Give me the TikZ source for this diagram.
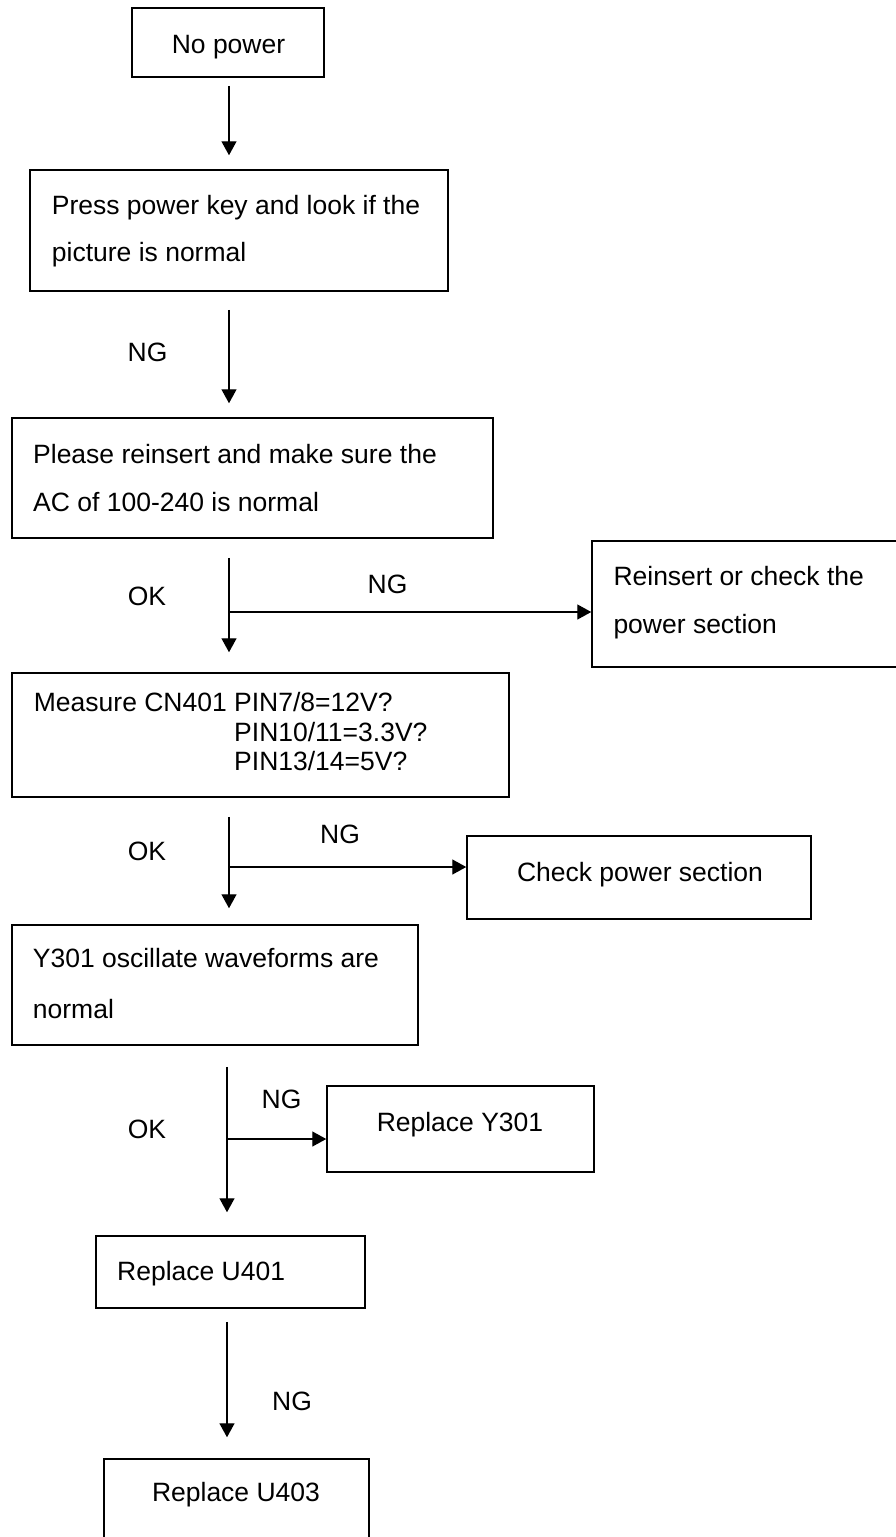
\documentclass[tikz,border=0pt]{standalone}
\usepackage{fontspec}
\setmainfont{Liberation Sans}
\usetikzlibrary{arrows.meta,fit}
\begin{document}
\begin{tikzpicture}[x=1pt,y=-1pt,
  box/.style={draw,line width=1.5pt,inner sep=0pt,rectangle},
  lbl/.style={font=\fontsize{26.5}{30}\selectfont,inner sep=0pt,anchor=base west},
  clbl/.style={font=\fontsize{26.5}{30}\selectfont,inner sep=0pt,anchor=base},
  arr/.style={line width=1.4pt,-{Triangle[width=15pt,length=14pt]}}]
\useasboundingbox (0,0) rectangle (896,1537);
\clip (0,0) rectangle (896,1537);
% boxes
\node[box,fit={(132,8)(324,77)}] (b1) {};
\node[box,fit={(30,170)(448,291)}] (b2) {};
\node[box,fit={(12,418)(493,538)}] (b3) {};
\node[box,fit={(592,541)(900,667)}] (b4) {};
\node[box,fit={(12,673)(509,797)}] (b5) {};
\node[box,fit={(467,836)(811,919)}] (b6) {};
\node[box,fit={(12,925)(418,1045)}] (b7) {};
\node[box,fit={(327,1086)(594,1172)}] (b8) {};
\node[box,fit={(96,1236)(365,1308)}] (b9) {};
\node[box,fit={(104,1459)(369,1545)}] (b10) {};
% box texts
\node[clbl] (t1) at (228.5,53.5) {No power};
\node[lbl] (t2a) at (51.7,214.3) {Press power key and look if the};
\node[lbl] (t2b) at (51.7,261.7) {picture is normal};
\node[lbl] (t3a) at (33,463) {Please reinsert and make sure the};
\node[lbl] (t3b) at (33,511) {AC of 100-240 is normal};
\node[lbl] (t4a) at (613.3,585.7) {Reinsert or check the};
\node[lbl] (t4b) at (613.3,633.3) {power section};
\node[lbl] (t5a) at (33.7,711.7) {Measure CN401 PIN7/8=12V?};
\node[lbl] (t5b) at (33.7,741.2) {\phantom{Measure CN401 }PIN10/11=3.3V?};
\node[lbl] (t5c) at (33.7,770.7) {\phantom{Measure CN401 }PIN13/14=5V?};
\node[clbl] (t6) at (640,881) {Check power section};
\node[lbl] (t7a) at (32.7,967.3) {Y301 oscillate waveforms are};
\node[lbl] (t7b) at (32.7,1018.3) {normal};
\node[clbl] (t8) at (460,1131) {Replace Y301};
\node[lbl] (t9) at (117,1280) {Replace U401};
\node[clbl] (t10) at (236,1501.7) {Replace U403};
% connector coordinates
\coordinate (X) at (229,0);
\coordinate (Y) at (227,0);
\coordinate (j3) at (229,612);
\coordinate (j4) at (229,867);
\coordinate (j5) at (227,1139);
% connectors
\draw[arr] ([yshift=-8pt]b1.south -| X) -- ([yshift=14pt]b2.north -| X);
\draw[arr] ([yshift=-18pt]b2.south -| X) -- ([yshift=14pt]b3.north -| X);
\draw[arr] ([yshift=-19pt]b3.south -| X) -- ([yshift=20pt]b5.north -| X);
\draw[arr] (j3) -- (j3 -| b4.west);
\draw[arr] ([yshift=-19pt]b5.south -| X) -- ([yshift=16pt]b7.north -| X);
\draw[arr] (j4) -- (j4 -| b6.west);
\draw[arr] ([yshift=-21pt]b7.south -| Y) -- ([yshift=23pt]b9.north -| Y);
\draw[arr] (j5) -- (j5 -| b8.west);
\draw[arr] ([yshift=-13pt]b9.south -| Y) -- ([yshift=21pt]b10.north -| Y);
% connector labels
\node[clbl] (ng2) at (147.5,361.5) {NG};
\node[clbl] (ok3) at (147,605.7) {OK};
\node[clbl] (ng3) at (387.5,593.3) {NG};
\node[clbl] (ok4) at (147,860.5) {OK};
\node[clbl] (ng4) at (340,843.5) {NG};
\node[clbl] (ok5) at (147,1138.5) {OK};
\node[clbl] (ng5) at (281.5,1108.3) {NG};
\node[clbl] (ng6) at (292,1410.5) {NG};
\end{tikzpicture}
\end{document}
